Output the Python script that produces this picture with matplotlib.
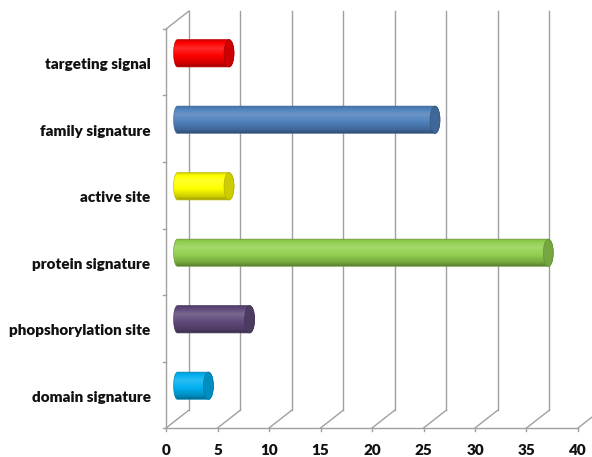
import numpy as np
import matplotlib
matplotlib.use("Agg")
import matplotlib.pyplot as plt
from matplotlib.patches import Polygon, Ellipse
from matplotlib.colors import to_rgb

# data, bottom to top
categories = ["domain signature", "phopshorylation site", "protein signature",
              "active site", "family signature", "targeting signal"]
values = [3, 7, 36, 5, 25, 5]
colors = ["#00b0f0", "#604a7b", "#92d050", "#ffff00", "#4f81bd", "#ff0000"]
ticks = [0, 5, 10, 15, 20, 25, 30, 35, 40]

# oblique depth of the 3d box, in data units
dx, dy = 2.23, 0.27
bar_h = 0.41
rx_cap = 0.48
rx_left = 0.38
grid_col = "#a0a0a0"

plt.rcParams['font.family'] = ['Lato', 'DejaVu Sans']

fig = plt.figure(figsize=(5.92, 4.57), dpi=100)
ax = fig.add_axes([0, 0, 1, 1])
ax.set_xlim(-16.12, 41.36)
ax.set_ylim(-0.436, 6.436)
ax.axis('off')


def shade(c, f):
    c = np.array(to_rgb(c))
    if f >= 1:
        return c + (1 - c) * (f - 1)
    return c * f


# walls and floor
n = len(categories)
for t in ticks:
    ax.plot([t, t + dx], [0, dy], color=grid_col, lw=1, zorder=1)
    if t + dx < 41.3:
        ax.plot([t + dx, t + dx], [dy, n + dy], color=grid_col, lw=1, zorder=1)
    ax.plot([t, t], [0, -0.05], color=grid_col, lw=1, zorder=1)
    ax.text(t, -0.34, str(t), ha='center', va='center',
            fontsize=11, fontweight='heavy', color='#111111')
ax.plot([0, ticks[-1]], [0, 0], color=grid_col, lw=1, zorder=1)
ax.plot([0, 0], [0, n], color=grid_col, lw=1, zorder=1)
ax.plot([0, dx], [n, n + dy], color=grid_col, lw=1, zorder=1)
for k in range(n + 1):
    ax.plot([-0.3, 0], [k, k], color=grid_col, lw=1, zorder=1)

# gradient profile across the cylinder (top -> bottom)
prof_pos = [0.0, 0.08, 0.32, 0.6, 0.88, 1.0]
prof_val = [0.74, 0.95, 1.16, 1.0, 0.8, 0.62]

for i, (cat, v, col) in enumerate(zip(categories, values, colors)):
    yc = i + 0.5 + dy / 2
    x0 = dx / 2
    x1 = x0 + v
    ax.text(-1.5, i + 0.46, cat, ha='right', va='center',
            fontsize=11, fontweight='heavy', color='#111111')

    th = np.linspace(np.pi / 2, 3 * np.pi / 2, 40)
    left = np.c_[x0 + rx_left * np.cos(th), yc + bar_h / 2 * np.sin(th)]
    th2 = np.linspace(-np.pi / 2, np.pi / 2, 40)
    right = np.c_[x1 + rx_cap * np.cos(th2), yc + bar_h / 2 * np.sin(th2)]
    body = Polygon(np.vstack([left, right]), closed=True,
                   facecolor='none', edgecolor=shade(col, 0.75), lw=0.5, zorder=4)
    ax.add_patch(body)

    rows = np.linspace(0, 1, 60)
    f = np.interp(rows, prof_pos, prof_val)
    img = np.array([shade(col, ff) for ff in f])[:, None, :]
    im = ax.imshow(img, extent=[x0 - rx_left, x1 + rx_cap,
                                yc - bar_h / 2, yc + bar_h / 2],
                   aspect='auto', origin='upper', zorder=3,
                   interpolation='bilinear')
    im.set_clip_path(body)

    cap = Ellipse((x1, yc), 2 * rx_cap, bar_h, facecolor=shade(col, 0.8),
                  edgecolor=shade(col, 0.7), lw=0.5, zorder=5)
    ax.add_patch(cap)

fig.savefig("out.png", dpi=100)
